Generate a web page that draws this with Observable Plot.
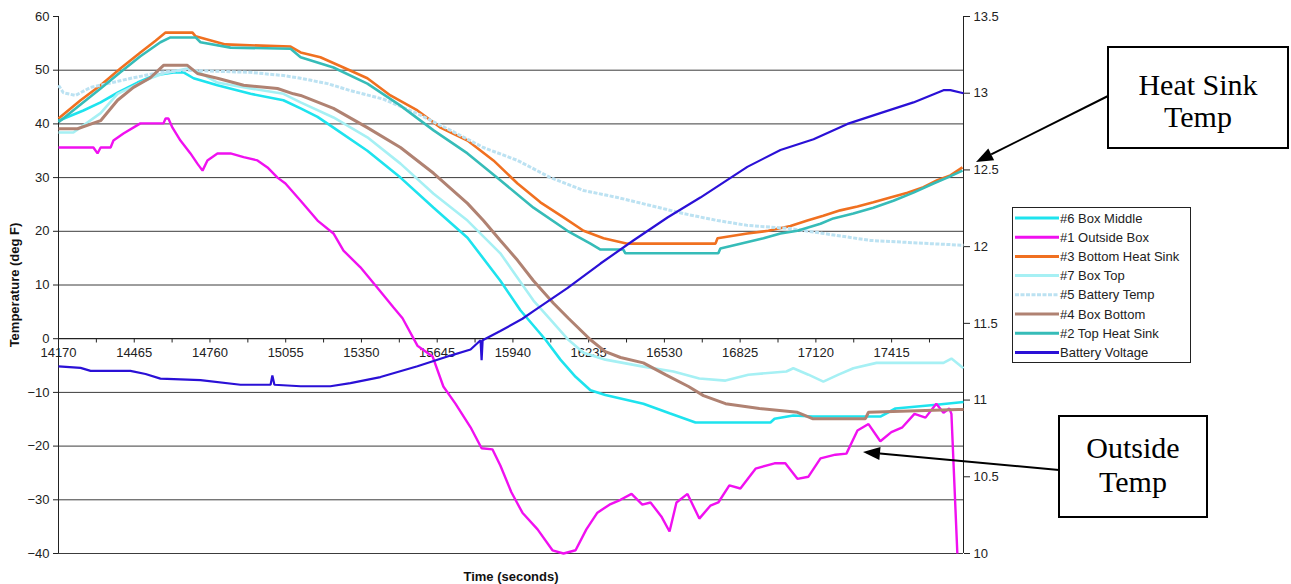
<!DOCTYPE html>
<html><head><meta charset="utf-8">
<script src="https://cdn.jsdelivr.net/npm/d3@7"></script>
<script src="https://cdn.jsdelivr.net/npm/@observablehq/plot@0.6"></script>
<style>
html,body{margin:0;padding:0;background:#fff;}
#wrap{position:relative;width:1291px;height:584px;overflow:hidden;background:#fff;}
#wrap > svg{position:absolute;left:0;top:0;}
</style></head><body><div id="wrap"></div>
<script>
// ---------- data (time in seconds, temperature in deg F, voltage in V) ----------
const xTickLabels = [14170,14465,14760,15055,15350,15645,15940,16235,16530,16825,17120,17415];
const xMinorTicks = [14170,14317.5,14465,14612.5,14760,14907.5,15055,15202.5,15350,15497.5,15645,15792.5,15940,16087.5,16235,16382.5,16530,16677.5,16825,16972.5,17120,17267.5,17415,17562.5];
const tempTicks = [-40,-30,-20,-10,0,10,20,30,40,50,60];
const tempGrid = [-40,-30,-20,-10,10,20,30,40,50];
const voltTicks = [10,10.5,11,11.5,12,12.5,13,13.5];

const boxMiddle = [[14170,40.6],[14267,42.5],[14334,44.0],[14400,45.8],[14478,47.7],[14540,49.0],[14618,49.6],[14657,49.6],[14696,48.5],[14789,47.2],[14918,45.6],[15046,44.4],[15113,42.9],[15179,41.3],[15241,39.3],[15373,35.0],[15502,30.0],[15631,24.4],[15763,18.8],[15891,10.8],[15969,5.3],[16067,-0.2],[16125,-3.9],[16184,-7.1],[16242,-9.6],[16300,-10.5],[16448,-12.1],[16550,-13.9],[16651,-15.6],[16943,-15.6],[16959,-14.9],[17032,-14.3],[17107,-14.5],[17371,-14.5],[17430,-13.0],[17589,-12.3],[17695,-11.8]];

const outsideBox = [[14170,35.6],[14306,35.6],[14322,34.5],[14334,35.6],[14373,35.6],[14384,36.9],[14423,38.2],[14489,40.1],[14579,40.1],[14587,41.0],[14598,41.0],[14614,39.3],[14645,36.9],[14684,34.5],[14711,32.6],[14731,31.3],[14750,33.2],[14789,34.5],[14840,34.5],[14891,33.8],[14945,33.2],[14984,31.9],[15023,30.0],[15054,28.9],[15113,25.7],[15179,22.0],[15241,19.6],[15280,16.4],[15346,13.3],[15412,9.5],[15475,5.8],[15510,3.8],[15568,-1.3],[15627,-3.3],[15669,-8.9],[15716,-12.1],[15775,-16.5],[15818,-20.4],[15860,-20.6],[15891,-23.6],[15934,-28.6],[15977,-32.4],[16036,-35.5],[16094,-39.4],[16137,-40.0],[16184,-39.4],[16226,-35.5],[16269,-32.4],[16316,-30.9],[16359,-30.0],[16402,-28.9],[16444,-30.9],[16476,-30.5],[16518,-33.1],[16550,-35.9],[16577,-30.5],[16620,-28.9],[16666,-33.5],[16709,-31.1],[16740,-30.5],[16783,-27.3],[16826,-27.9],[16885,-24.2],[16959,-23.2],[17001,-23.2],[17048,-26.1],[17091,-25.7],[17138,-22.3],[17196,-21.6],[17239,-21.4],[17282,-17.1],[17325,-15.9],[17371,-19.1],[17414,-17.4],[17457,-16.5],[17504,-14.0],[17547,-14.7],[17589,-12.1],[17617,-13.8],[17640,-13.0],[17648,-14.0],[17671,-40.0]];

const bottomHeatSink = [[14170,41.0],[14256,44.4],[14334,47.2],[14411,50.3],[14489,53.3],[14548,55.5],[14587,57.0],[14692,57.0],[14704,56.3],[14820,54.8],[15074,54.4],[15113,53.3],[15190,52.4],[15280,50.5],[15373,48.5],[15463,45.3],[15568,42.5],[15658,39.3],[15763,36.9],[15864,33.2],[15958,28.9],[16047,25.4],[16137,22.6],[16215,20.1],[16293,18.7],[16386,17.7],[16729,17.7],[16737,18.7],[16853,19.6],[16935,20.1],[17021,21.0],[17087,22.0],[17149,22.9],[17215,23.9],[17282,24.6],[17344,25.4],[17410,26.3],[17477,27.2],[17539,28.2],[17593,29.5],[17644,30.4],[17691,31.9]];

const boxTop = [[14170,38.4],[14228,38.4],[14334,42.0],[14400,45.6],[14528,48.5],[14579,49.4],[14672,50.3],[14711,49.8],[14789,47.7],[14867,47.0],[15046,45.6],[15113,44.0],[15241,41.2],[15373,37.5],[15502,32.6],[15631,27.0],[15763,22.0],[15891,15.9],[16020,7.1],[16082,3.8],[16156,-0.2],[16215,-2.6],[16300,-3.9],[16448,-5.2],[16565,-6.1],[16666,-7.4],[16768,-7.8],[16857,-6.7],[17005,-6.1],[17032,-5.5],[17091,-6.7],[17149,-8.0],[17208,-6.7],[17266,-5.5],[17356,-4.5],[17617,-4.5],[17648,-3.7],[17695,-5.5]];

const batteryTemp = [[14170,47.2],[14189,45.8],[14236,45.3],[14295,46.8],[14361,47.5],[14462,48.6],[14567,49.6],[14657,50.0],[14918,49.6],[15046,49.0],[15113,48.5],[15218,47.5],[15307,46.2],[15436,44.6],[15568,41.9],[15697,38.8],[15825,35.6],[15958,33.2],[16086,30.0],[16215,27.6],[16347,26.3],[16476,24.8],[16604,23.3],[16737,22.0],[16853,21.1],[17021,20.5],[17149,19.6],[17332,18.3],[17566,17.7],[17695,17.4]];

const boxBottom = [[14170,39.1],[14244,39.1],[14334,40.6],[14400,44.4],[14462,46.8],[14528,48.6],[14579,50.9],[14672,50.9],[14711,49.4],[14789,48.5],[14891,47.2],[15023,46.6],[15085,45.6],[15113,45.3],[15241,42.9],[15373,39.3],[15502,35.6],[15631,30.8],[15763,25.2],[15825,22.0],[15891,18.3],[15958,14.6],[16020,10.8],[16098,6.6],[16156,3.8],[16242,-0.2],[16300,-2.4],[16359,-3.5],[16448,-4.5],[16534,-6.7],[16624,-8.9],[16682,-10.6],[16768,-12.1],[16900,-13.0],[17048,-13.7],[17107,-14.9],[17313,-14.9],[17325,-13.7],[17675,-13.2],[17695,-13.2]];

const topHeatSink = [[14170,40.3],[14256,43.6],[14334,46.6],[14411,49.6],[14489,52.6],[14567,55.2],[14606,56.1],[14704,56.1],[14723,55.2],[14840,54.2],[15074,54.0],[15113,52.4],[15241,50.5],[15373,47.5],[15502,43.4],[15631,38.8],[15763,34.5],[15891,29.5],[16020,24.4],[16152,20.1],[16242,17.7],[16281,16.6],[16370,16.6],[16378,15.9],[16740,15.9],[16748,16.8],[16826,17.7],[16916,18.7],[16982,19.6],[17048,20.1],[17138,21.4],[17188,22.4],[17266,23.3],[17344,24.4],[17422,25.7],[17500,27.2],[17578,28.9],[17632,30.0],[17691,31.3]];

const batteryVoltage = [[14170,11.22],[14256,11.21],[14295,11.19],[14450,11.19],[14509,11.17],[14567,11.14],[14723,11.13],[14879,11.10],[14996,11.10],[15003,11.16],[15011,11.10],[15113,11.09],[15229,11.09],[15307,11.11],[15424,11.15],[15568,11.22],[15697,11.29],[15775,11.33],[15814,11.39],[15818,11.26],[15822,11.39],[15891,11.45],[15977,11.53],[16020,11.58],[16152,11.73],[16281,11.89],[16409,12.04],[16542,12.19],[16670,12.32],[16853,12.52],[16982,12.63],[17111,12.70],[17243,12.80],[17371,12.87],[17500,12.94],[17617,13.02],[17644,13.02],[17695,13.00]];

// ---------- styles ----------
const series = [
  {name:"#6 Box Middle",       data: boxMiddle,      color:"#1EE3EE", width:2.6},
  {name:"#1 Outside Box",      data: outsideBox,     color:"#F010F0", width:2.4},
  {name:"#3 Bottom Heat Sink", data: bottomHeatSink, color:"#F07020", width:2.6},
  {name:"#7 Box Top",          data: boxTop,         color:"#A6F0F4", width:2.6},
  {name:"#5 Battery Temp",     data: batteryTemp,    color:"#BCE2F2", width:3, dash:"4,1.5"},
  {name:"#4 Box Bottom",       data: boxBottom,      color:"#B08272", width:3},
  {name:"#2 Top Heat Sink",    data: topHeatSink,    color:"#36BCB8", width:2.6},
  {name:"Battery Voltage",     data: batteryVoltage, color:"#2A10D6", width:2.2, right:true}
];

const W = 1291, H = 584;
const margins = {marginLeft:58, marginRight:328, marginTop:16, marginBottom:31};
const xDomain = [14170, 17695];
const fontFamily = "'Liberation Sans', Arial, Helvetica, sans-serif";
const baseStyle = {fontFamily, fontSize:"13px", color:"#222", background:"transparent", overflow:"visible"};

const lineMark = s => Plot.line(s.data, {x: d => d[0], y: d => d[1], stroke: s.color, strokeWidth: s.width,
  strokeDasharray: s.dash, strokeLinejoin: "miter", strokeLinecap: "butt"});

const tempPlot = Plot.plot({
  width: W, height: H, ...margins,
  x: {domain: xDomain, axis: null},
  y: {domain: [-40, 60], axis: null},
  style: baseStyle,
  marks: [
    Plot.ruleY(tempGrid, {stroke:"#3c3c3c", strokeWidth:1}),
    Plot.ruleX([xDomain[0]], {stroke:"#222", strokeWidth:1}),
    Plot.ruleX([xDomain[1]], {stroke:"#222", strokeWidth:1}),
    Plot.axisY(tempTicks, {anchor:"left", tickSize:5, tickPadding:4, label:null, fontSize:13, color:"#222"}),
    Plot.ruleY([0], {stroke:"#222", strokeWidth:1.2}),
    Plot.ruleX(xMinorTicks, {x: d => d, y1: 0, y2: -0.8, stroke:"#222"}),
    Plot.text(xTickLabels, {x: d => d, y: 0, dy: 14, text: d => String(d), fontSize: 13, fill:"#222"}),
    Plot.text(["Temperature (deg F)"], {frameAnchor:"left", dx:-44, rotate:-90, textAnchor:"middle", lineAnchor:"middle", fontWeight:"bold", fontSize:13, fill:"#111"}),
    Plot.text(["Time (seconds)"], {frameAnchor:"bottom", dy:23, textAnchor:"middle", lineAnchor:"middle", fontWeight:"bold", fontSize:13, fill:"#111"}),
    ...series.filter(s => !s.right).map(lineMark)
  ]
});

const voltPlot = Plot.plot({
  width: W, height: H, ...margins,
  x: {domain: xDomain, axis: null},
  y: {domain: [10, 13.5], axis: null},
  style: baseStyle,
  marks: [
    Plot.axisY(voltTicks, {anchor:"right", tickSize:6, tickPadding:4, tickFormat: d => String(d), label:null, fontSize:13, color:"#222"}),
    ...series.filter(s => s.right).map(lineMark)
  ]
});

const wrap = document.getElementById("wrap");
wrap.appendChild(tempPlot);
wrap.appendChild(voltPlot);

// ---------- legend and callouts ----------
const ann = d3.create("svg").attr("width", W).attr("height", H)
  .style("font-family", fontFamily);

const lg = ann.append("g");
lg.append("rect").attr("x", 1012.5).attr("y", 207.5).attr("width", 178).attr("height", 155)
  .attr("fill", "#fff").attr("stroke", "#222").attr("stroke-width", 1);
series.forEach((s, i) => {
  const y = 218 + i * 19.2;
  lg.append("line").attr("x1", 1015).attr("x2", 1059).attr("y1", y).attr("y2", y)
    .attr("stroke", s.color).attr("stroke-width", 3).attr("stroke-dasharray", s.dash || null);
  lg.append("text").attr("x", 1060).attr("y", y).attr("dy", "0.35em")
    .attr("font-size", 13).attr("fill", "#222").text(s.name);
});

function arrow(x1, y1, x2, y2) {
  const a = Math.atan2(y2 - y1, x2 - x1), L = 17, Wd = 6.5;
  const bx = x2 - L * Math.cos(a), by = y2 - L * Math.sin(a);
  ann.append("line").attr("x1", x1).attr("y1", y1).attr("x2", bx).attr("y2", by)
    .attr("stroke", "#000").attr("stroke-width", 2);
  const px = -Math.sin(a) * Wd, py = Math.cos(a) * Wd;
  ann.append("polygon").attr("points", `${x2},${y2} ${bx + px},${by + py} ${bx - px},${by - py}`).attr("fill", "#000");
}
function callout(x, y, w, h, lines, baselines) {
  ann.append("rect").attr("x", x).attr("y", y).attr("width", w).attr("height", h)
    .attr("fill", "#fff").attr("stroke", "#000").attr("stroke-width", 2);
  lines.forEach((t, i) => ann.append("text").attr("x", x + w / 2).attr("y", baselines[i])
    .attr("text-anchor", "middle").attr("font-family", "'Liberation Serif', 'Times New Roman', serif")
    .attr("font-size", 30).attr("fill", "#000").text(t));
}
arrow(1108, 96, 976, 162);
callout(1108, 47, 180, 101, ["Heat Sink", "Temp"], [95, 127]);
arrow(1059, 470, 863, 452);
callout(1059, 416, 148, 101, ["Outside", "Temp"], [458, 492]);

wrap.appendChild(ann.node());
</script></body></html>
